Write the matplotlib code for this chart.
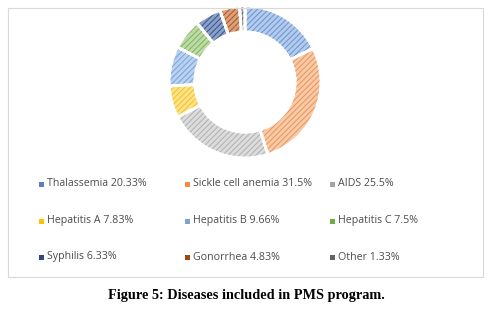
import matplotlib.pyplot as plt
from matplotlib.patches import Rectangle

diseases = ["Thalassemia", "Sickle cell anemia", "AIDS", "Hepatitis A", "Hepatitis B",
            "Hepatitis C", "Syphilis", "Gonorrhea", "Other"]
shares = [20.33, 31.5, 25.5, 7.83, 9.66, 7.5, 6.33, 4.83, 1.33]
pct_labels = ["20.33%", "31.5%", "25.5%", "7.83%", "9.66%", "7.5%", "6.33%", "4.83%", "1.33%"]

# fill colour, hatch colour, legend marker colour
fills = ["#b3cbec", "#f7caa8", "#dcdcdc", "#ffe38a", "#bad1ef", "#bddba8", "#8aa0c8", "#dca07a", "#a0a0a0"]
hatches = ["#6a93cf", "#eb9358", "#b0b0b0", "#f0c020", "#7ba3da", "#7fb35a", "#34538a", "#a8562a", "#5a5a5a"]
markers = ["#5b7fbf", "#ed8b4d", "#a5a5a5", "#ffc000", "#7ba3da", "#70ad47", "#2e4a7d", "#9e480e", "#636363"]

plt.rcParams["hatch.linewidth"] = 0.7

W, H = 497, 324
fig = plt.figure(figsize=(W / 100, H / 100), dpi=100)

# chart border
fig.patches.append(Rectangle((8 / W, 1 - 277 / H), 475 / W, 269 / H, transform=fig.transFigure,
                             fill=False, edgecolor="#d9d9d9", linewidth=0.8))

cx, cy, r = 245, 82, 76
ax = fig.add_axes([(cx - r) / W, 1 - (cy + r) / H, 2 * r / W, 2 * r / H])
ring = dict(width=0.34, edgecolor="white", linewidth=2)
ax.pie(shares, colors=fills, startangle=90, counterclock=False, wedgeprops=ring)
wedges, _ = ax.pie(shares, colors=["none"] * len(shares), startangle=90, counterclock=False,
                   wedgeprops=dict(width=0.34, linewidth=0))
for w, hc in zip(wedges, hatches):
    w.set_hatch("//////")
    w.set_edgecolor(hc)
# redraw white separators on top
ax.pie(shares, colors=["none"] * len(shares), startangle=90, counterclock=False, wedgeprops=ring)
ax.set_xlim(-1, 1)
ax.set_ylim(-1, 1)
ax.axis("off")

# legend, 3 x 3, row-wise
col_x = [39, 185, 330]
row_y = [184, 221, 257]
for i, (name, pct) in enumerate(zip(diseases, pct_labels)):
    x = col_x[i % 3]
    y = row_y[i // 3]
    fig.patches.append(Rectangle((x / W, 1 - (y + 2.5) / H), 5 / W, 5 / H, transform=fig.transFigure,
                                 facecolor=markers[i], edgecolor="none"))
    fig.text((x + 8) / W, 1 - y / H, f"{name} {pct}", fontsize=7.7, color="#4d4d4d",
             family="Open Sans", va="center", ha="left")

fig.text(246 / W, 1 - 295 / H, "Figure 5: Diseases included in PMS program.", fontsize=10.3,
         family="Liberation Serif", weight="bold", ha="center", va="center", color="black")

fig.savefig("out.png", dpi=100)
